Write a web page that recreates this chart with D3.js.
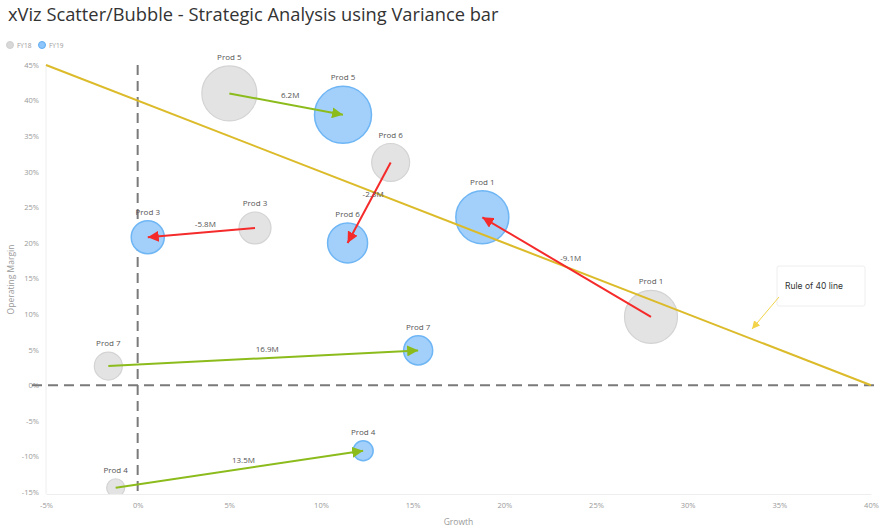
<!DOCTYPE html>
<html>
<head>
<meta charset="utf-8">
<script src="https://cdn.jsdelivr.net/npm/d3@7"></script>
<style>
  html, body { margin: 0; padding: 0; background: #fff; }
  svg { display: block; font-family: "Open Sans", "Noto Sans", sans-serif; }
</style>
</head>
<body>
<svg id="chart" width="887" height="529"></svg>
<script>
// ---- data ----
const products = ["Prod 1", "Prod 3", "Prod 4", "Prod 5", "Prod 6", "Prod 7"];
const growthFY18 = [28.0, 6.4, -1.2, 5.0, 13.8, -1.6];
const marginFY18 = [9.6, 22.1, -14.4, 41.0, 31.3, 2.7];
const sizeFY18   = [78, 28.4, 9, 84, 40, 21.8];
const growthFY19 = [18.8, 0.55, 12.3, 11.2, 11.45, 15.3];
const marginFY19 = [23.6, 20.8, -9.2, 38.0, 20.0, 4.9];
const sizeFY19   = [78, 30.3, 11.1, 90.3, 44.4, 23.4];
const varianceLabels = ["-9.1M", "-5.8M", "13.5M", "6.2M", "-2.3M", "16.9M"];
const varianceValues = [-9.1, -5.8, 13.5, 6.2, -2.3, 16.9];
const xTicks = [-5, 0, 5, 10, 15, 20, 25, 30, 35, 40];
const yTicks = [-15, -10, -5, 0, 5, 10, 15, 20, 25, 30, 35, 40, 45];
const seriesNames = ["FY18", "FY19"];
const ruleOf40 = [[-5, 45], [40, 0]];

// ---- setup ----
const svg = d3.select("#chart");
const x = d3.scaleLinear().domain([-5, 40]).range([46, 871]);
const y = d3.scaleLinear().domain([-15, 45]).range([492, 65]);
const r = d3.scaleSqrt().domain([0, 100]).range([0, 30]);
const plotBottom = 494;

const colors = {
  fy18Fill: "#e3e3e3", fy18Stroke: "#d3d3d3",
  fy19Fill: "#a3d0fb", fy19Stroke: "#6fb6f5",
  pos: "#8cbb1c", neg: "#f52a2a", rule: "#dcbb2a"
};

// title
svg.append("text")
  .attr("x", 8).attr("y", 21)
  .attr("font-size", 18.3).attr("fill", "#333")
  .text("xViz Scatter/Bubble - Strategic Analysis using Variance bar");

// legend
const legend = svg.append("g").attr("transform", "translate(0,45)");
[[seriesNames[0], "#d8d8d8", "#cfcfcf"], [seriesNames[1], "#8ec6fb", "#5fadf3"]].forEach((d, i) => {
  const g = legend.append("g").attr("transform", `translate(${10 + i * 32},0)`);
  g.append("circle").attr("r", 3.5).attr("fill", d[1]).attr("stroke", d[2]);
  g.append("text").attr("x", 7).attr("y", 2.5).attr("font-size", 6.5).attr("fill", "#999").text(d[0]);
});

// defs
const defs = svg.append("defs");
defs.append("clipPath").attr("id", "plotclip")
  .append("rect").attr("x", 46).attr("y", 0).attr("width", 830).attr("height", plotBottom);
function marker(id, color, size) {
  defs.append("marker").attr("id", id)
    .attr("viewBox", "0 0 10 10").attr("refX", 10).attr("refY", 5)
    .attr("markerWidth", size).attr("markerHeight", size)
    .attr("markerUnits", "userSpaceOnUse")
    .attr("orient", "auto")
    .append("path").attr("d", "M0,0 L10,5 L0,10 Z").attr("fill", color);
}
marker("arrPos", colors.pos, 11);
marker("arrNeg", colors.neg, 11);
marker("arrRule", "#f2d34a", 8);

// axes
const xAxis = d3.axisBottom(x).tickValues(xTicks).tickFormat(d => d + "%").tickSize(0).tickPadding(9);
const gx = svg.append("g").attr("transform", `translate(0,${plotBottom})`).call(xAxis);
gx.select(".domain").attr("stroke", "#eeeeee");
gx.selectAll("text").attr("font-size", 7.5).attr("fill", "#999").attr("font-family", "Open Sans, sans-serif");

const yAxis = d3.axisLeft(y).tickValues(yTicks).tickFormat(d => d + "%").tickSize(0).tickPadding(7);
const gy = svg.append("g").attr("transform", "translate(46,0)").call(yAxis);
gy.select(".domain").attr("stroke", "#eeeeee").attr("d", `M0,${y(45)}V${plotBottom}`);
gy.selectAll("text").attr("font-size", 7.5).attr("fill", "#999").attr("font-family", "Open Sans, sans-serif");

// axis titles
svg.append("text").attr("x", (46 + 871) / 2).attr("y", 525)
  .attr("text-anchor", "middle").attr("font-size", 8.5).attr("fill", "#999").text("Growth");
svg.append("text").attr("transform", `translate(14,${(65 + plotBottom) / 2}) rotate(-90)`)
  .attr("text-anchor", "middle").attr("font-size", 8.5).attr("fill", "#999").text("Operating Margin");

// zero dashed lines
svg.append("line").attr("x1", x(0)).attr("x2", x(0)).attr("y1", y(45)).attr("y2", plotBottom)
  .attr("stroke", "#7a7a7a").attr("stroke-width", 2).attr("stroke-dasharray", "10,6");
svg.append("line").attr("x1", 32).attr("x2", 876).attr("y1", y(0)).attr("y2", y(0))
  .attr("stroke", "#7a7a7a").attr("stroke-width", 2).attr("stroke-dasharray", "10,6");

// bubbles
const plot = svg.append("g");
const bubbles = plot.append("g").attr("clip-path", "url(#plotclip)");
products.forEach((p, i) => {
  bubbles.append("circle")
    .attr("cx", x(growthFY18[i])).attr("cy", y(marginFY18[i])).attr("r", r(sizeFY18[i]))
    .attr("fill", colors.fy18Fill).attr("stroke", colors.fy18Stroke).attr("stroke-width", 1.2);
  bubbles.append("circle")
    .attr("cx", x(growthFY19[i])).attr("cy", y(marginFY19[i])).attr("r", r(sizeFY19[i]))
    .attr("fill", colors.fy19Fill).attr("stroke", colors.fy19Stroke).attr("stroke-width", 1.5);
});

// rule of 40 line
svg.append("line")
  .attr("x1", x(ruleOf40[0][0])).attr("y1", y(ruleOf40[0][1]))
  .attr("x2", x(ruleOf40[1][0])).attr("y2", y(ruleOf40[1][1]))
  .attr("stroke", colors.rule).attr("stroke-width", 2);

// labels and arrows
products.forEach((p, i) => {
  const x1 = x(growthFY18[i]), y1 = y(marginFY18[i]);
  const x2 = x(growthFY19[i]), y2 = y(marginFY19[i]);
  svg.append("text").attr("x", x1).attr("y", y1 - r(sizeFY18[i]) - 6)
    .attr("text-anchor", "middle").attr("font-size", 8).attr("fill", "#555").text(p);
  svg.append("text").attr("x", x2).attr("y", y2 - r(sizeFY19[i]) - 6)
    .attr("text-anchor", "middle").attr("font-size", 8).attr("fill", "#555").text(p);
  const pos = varianceValues[i] >= 0;
  svg.append("line").attr("x1", x1).attr("y1", y1).attr("x2", x2).attr("y2", y2)
    .attr("stroke", pos ? colors.pos : colors.neg).attr("stroke-width", 2)
    .attr("marker-end", pos ? "url(#arrPos)" : "url(#arrNeg)");
  svg.append("text").attr("x", (x1 + x2) / 2 + 4).attr("y", (y1 + y2) / 2 - 6)
    .attr("text-anchor", "middle").attr("font-size", 8).attr("fill", "#555").text(varianceLabels[i]);
});

// annotation
const ann = svg.append("g");
ann.append("rect").attr("x", 777).attr("y", 266).attr("width", 88).attr("height", 40)
  .attr("fill", "#fff").attr("stroke", "#eeeeee").attr("rx", 2);
ann.append("text").attr("x", 785).attr("y", 289).attr("font-size", 8.5).attr("fill", "#333")
  .attr("font-family", "Inter, sans-serif").text("Rule of 40 line");
ann.append("line").attr("x1", 779).attr("y1", 297).attr("x2", 752).attr("y2", 329)
  .attr("stroke", "#f2d34a").attr("stroke-width", 1).attr("marker-end", "url(#arrRule)");
</script>
</body>
</html>
